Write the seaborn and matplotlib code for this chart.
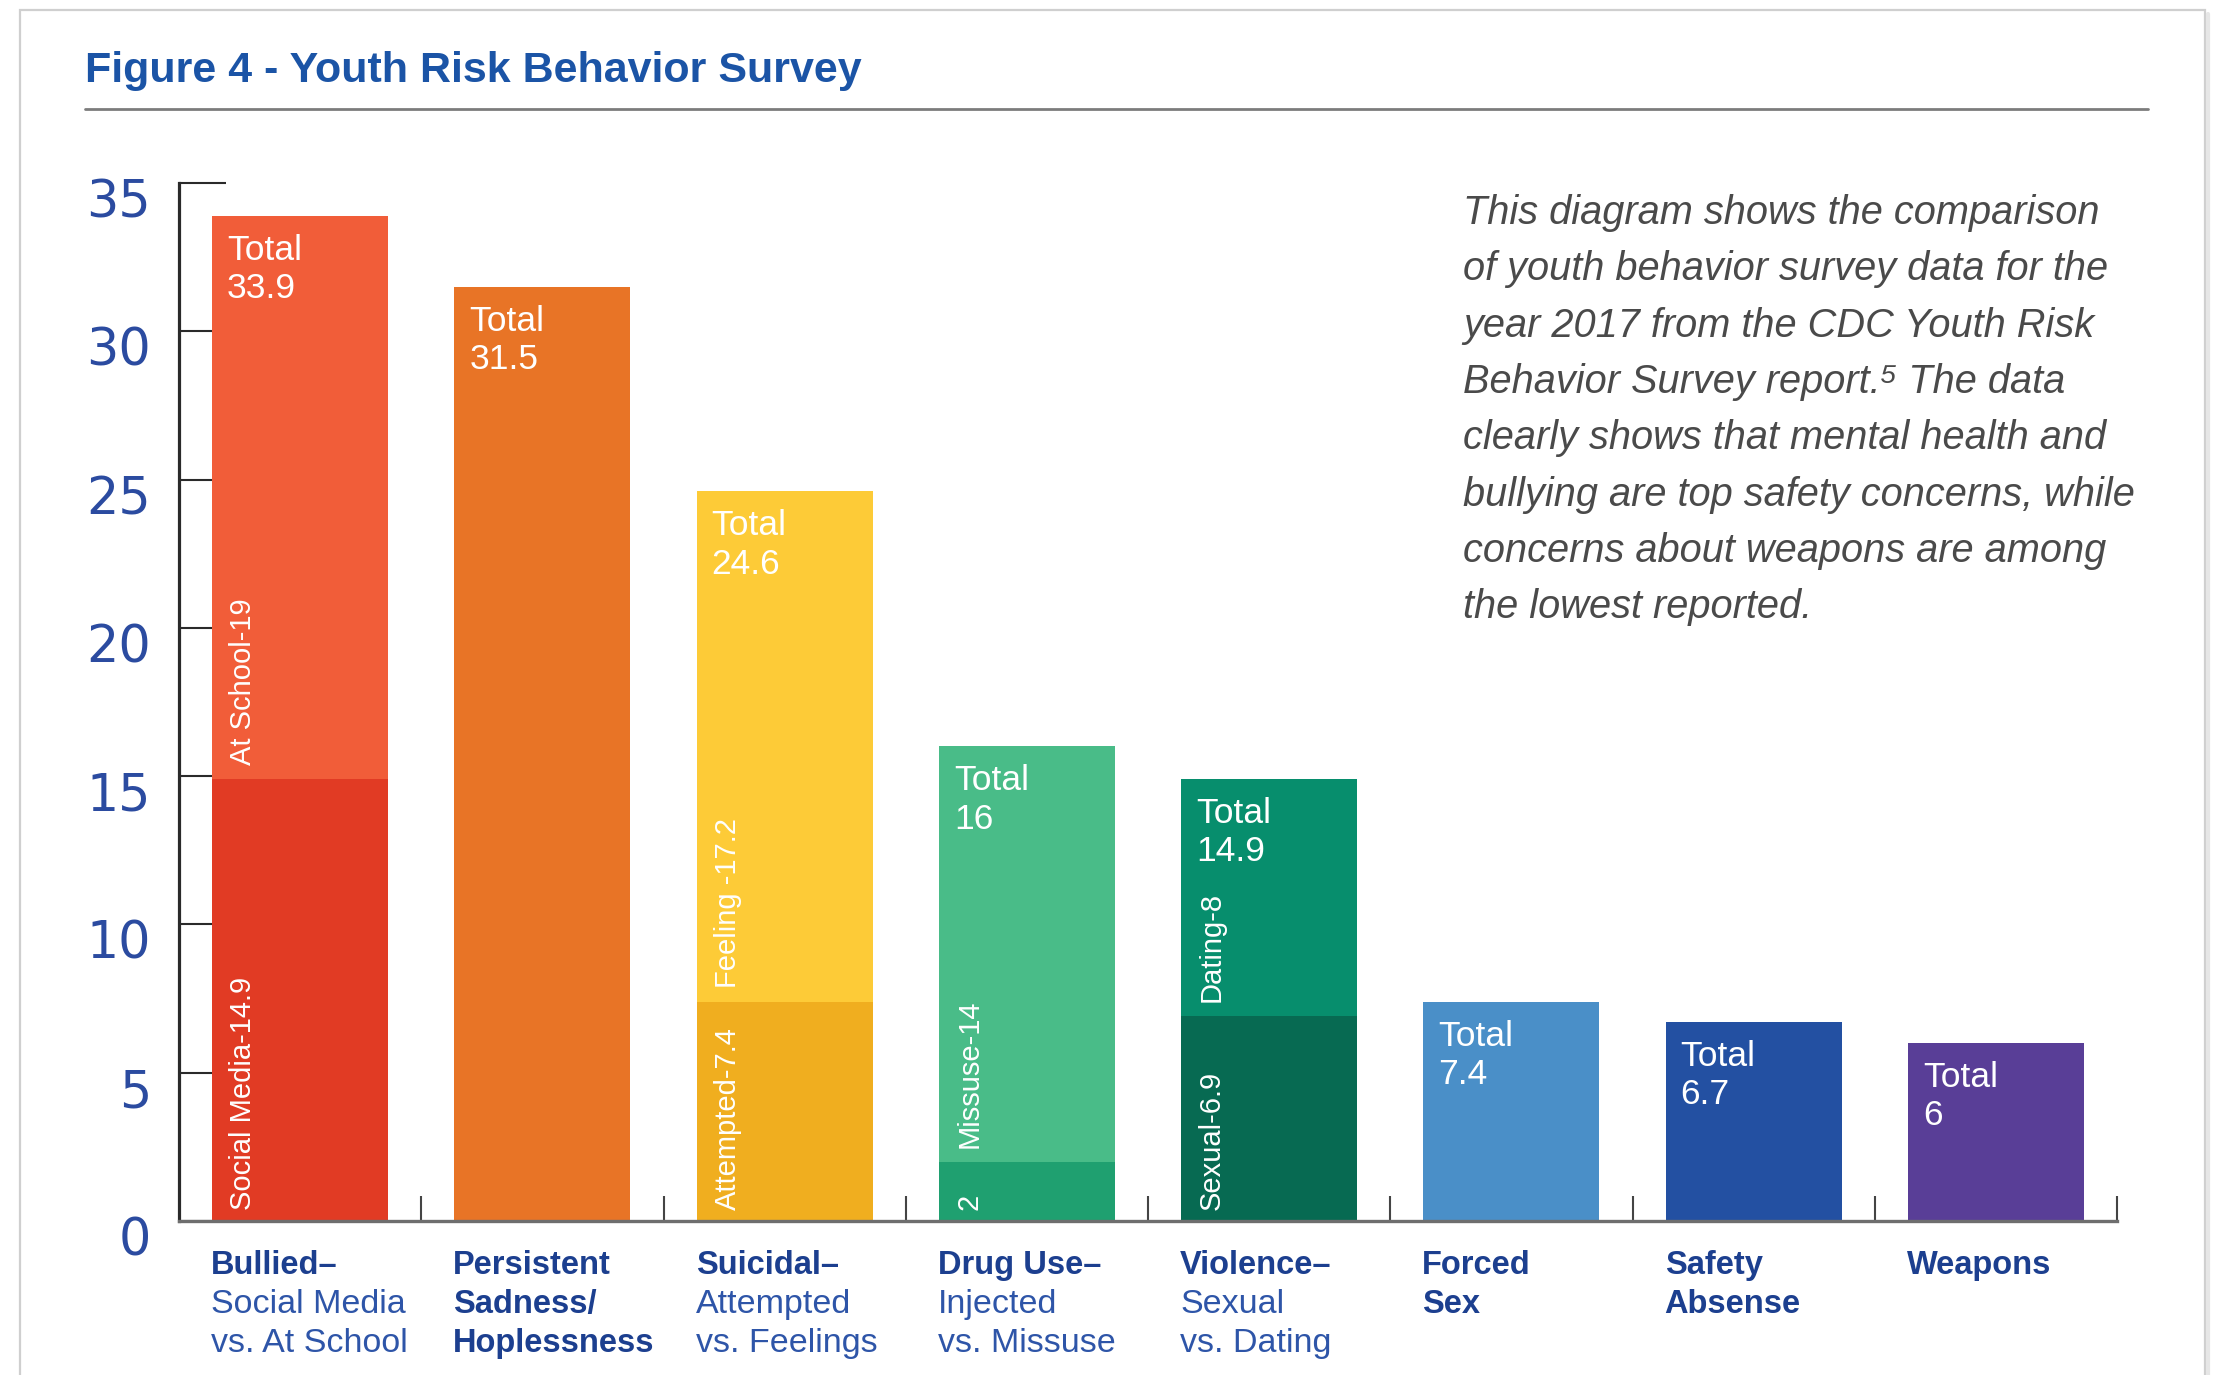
import numpy as np
import pandas as pd
import matplotlib
matplotlib.use("Agg")
import matplotlib.pyplot as plt
from matplotlib import font_manager as fm
from matplotlib.patches import Rectangle
from matplotlib.lines import Line2D
import matplotlib.transforms as mtransforms
import seaborn as sns

# ---------------- data ----------------
categories = ["Bullied", "Persistent Sadness", "Suicidal", "Drug Use",
              "Violence", "Forced Sex", "Safety Absense", "Weapons"]
bottom_values = [14.9, 0.0, 7.4, 2.0, 6.9, 0.0, 0.0, 0.0]
top_values = [19.0, 31.5, 17.2, 14.0, 8.0, 7.4, 6.7, 6.0]
total_values = [33.9, 31.5, 24.6, 16.0, 14.9, 7.4, 6.7, 6.0]
total_labels = ["33.9", "31.5", "24.6", "16", "14.9", "7.4", "6.7", "6"]
bottom_labels = ["Social Media-14.9", "", "Attempted-7.4", "2", "Sexual-6.9", "", "", ""]
top_labels = ["At School-19", "", "Feeling -17.2", "Missuse-14", "Dating-8", "", "", ""]
label_heads = [["Bullied–"], ["Persistent", "Sadness/", "Hoplessness"], ["Suicidal–"],
               ["Drug Use–"], ["Violence–"], ["Forced", "Sex"], ["Safety", "Absense"], ["Weapons"]]
label_tails = [["Social Media", "vs. At School"], [], ["Attempted", "vs. Feelings"],
               ["Injected", "vs. Missuse"], ["Sexual", "vs. Dating"], [], [], []]
y_ticks = [0, 5, 10, 15, 20, 25, 30, 35]

top_colors = ["#F15D39", "#E87426", "#FDCB37", "#49BC88", "#078E6D", "#4A8FC8", "#2350A2", "#593E97"]
bottom_colors = ["#E13B24", "#E87426", "#F0AE1F", "#1FA070", "#076A52", "#4A8FC8", "#2350A2", "#593E97"]

title = "Figure 4 - Youth Risk Behavior Survey"
note_lines = ["This diagram shows the comparison",
              "of youth behavior survey data for the",
              "year 2017 from the CDC Youth Risk",
              "Behavior Survey report.\u2075 The data",
              "clearly shows that mental health and",
              "bullying are top safety concerns, while",
              "concerns about weapons are among",
              "the lowest reported."]

# ---------------- fonts ----------------
sns.set_style("white")
installed = {f.name for f in fm.fontManager.ttflist}


def pick(*cands):
    for c in cands:
        if c in installed:
            return c
    return "DejaVu Sans"


NARROW = pick("Liberation Sans Narrow", "DejaVu Sans Condensed", "Liberation Sans")
REGULAR = pick("Liberation Sans", "Roboto", "DejaVu Sans")
plt.rcParams["font.family"] = [REGULAR, "DejaVu Sans"]

W, H = 2213, 1375
fig = plt.figure(figsize=(W / 100, H / 100), dpi=100)
fig.patch.set_facecolor("white")

ax_left, ax_right, ax_top, ax_bottom = 179, 2117, 183, 1221
ax = fig.add_axes([ax_left / W, 1 - ax_bottom / H,
                   (ax_right - ax_left) / W, (ax_bottom - ax_top) / H])

df = pd.DataFrame({"category": categories, "total": total_values, "bottom": bottom_values})
bar_w = 0.727
# full-height bars first, the lower segments drawn over them
sns.barplot(data=df, x="category", y="total", hue="category", palette=top_colors,
            width=bar_w, saturation=1, legend=False, ax=ax, zorder=2,
            linewidth=0, edgecolor="none")
sns.barplot(data=df, x="category", y="bottom", hue="category", palette=bottom_colors,
            width=bar_w, saturation=1, legend=False, ax=ax, zorder=2,
            linewidth=0, edgecolor="none")

ax.set_xlim(-0.5, len(categories) - 0.5)
ax.set_ylim(0, 35)
ax.set_xlabel("")
ax.set_ylabel("")
ax.set_axisbelow(True)

# axes styling
for s in ["top", "right"]:
    ax.spines[s].set_visible(False)
ax.spines["left"].set_color("#2a2a2a")
ax.spines["left"].set_linewidth(2.3)
ax.spines["bottom"].set_color("#6e6e6e")
ax.spines["bottom"].set_linewidth(2.4)

ax.set_xticks(np.arange(0.5, len(categories), 1.0))
ax.set_xticklabels([])
ax.tick_params(axis="x", bottom=True, direction="in", length=18, width=1.5,
               color="#444444")
ax.set_yticks(y_ticks)
ax.set_yticklabels([str(v) for v in y_ticks])
ax.tick_params(axis="y", left=True, direction="in", length=34, width=1.5,
               color="#2a2a2a", labelsize=36.5, labelcolor="#2B4BA0", pad=20)
shift = mtransforms.ScaledTranslation(0, -0.15, fig.dpi_scale_trans)
for lab in ax.get_yticklabels():
    lab.set_fontfamily(["DejaVu Sans"])
    lab.set_transform(lab.get_transform() + shift)

# labels inside bars
for i in range(len(categories)):
    x_left = i - bar_w / 2
    ax.annotate("Total\n" + total_labels[i], xy=(x_left, total_values[i]),
                xycoords="data", xytext=(15, -18), textcoords="offset pixels",
                ha="left", va="top", color="white", fontsize=25.5,
                family=[NARROW, "DejaVu Sans"], linespacing=1.2, zorder=5)
    if bottom_labels[i]:
        ax.annotate(bottom_labels[i], xy=(x_left, 0), xycoords="data",
                    xytext=(31, 11), textcoords="offset pixels", rotation=90,
                    ha="center", va="bottom", color="white", fontsize=21,
                    family=[NARROW, "DejaVu Sans"], zorder=5)
    if top_labels[i]:
        ax.annotate(top_labels[i], xy=(x_left, bottom_values[i]), xycoords="data",
                    xytext=(31, 14), textcoords="offset pixels", rotation=90,
                    ha="center", va="bottom", color="white", fontsize=21,
                    family=[NARROW, "DejaVu Sans"], zorder=5)

# category labels under the axis
line_gap = 39
for i in range(len(categories)):
    x_left = i - bar_w / 2
    k = 0
    for txt in label_heads[i]:
        ax.annotate(txt, xy=(x_left, 0), xycoords=("data", "axes fraction"),
                    xytext=(-1, -53 - k * line_gap), textcoords="offset pixels",
                    ha="left", va="baseline", color="#1C3F8F", fontsize=23.5,
                    fontweight="bold", family=[NARROW, "DejaVu Sans"],
                    annotation_clip=False)
        k += 1
    for txt in label_tails[i]:
        ax.annotate(txt, xy=(x_left, 0), xycoords=("data", "axes fraction"),
                    xytext=(-1, -53 - k * line_gap), textcoords="offset pixels",
                    ha="left", va="baseline", color="#2E55A8", fontsize=24.5,
                    family=[REGULAR, "DejaVu Sans"], annotation_clip=False)
        k += 1

# title, rule and frame
fig.text(85 / W, 1 - 82 / H, title, ha="left", va="baseline", fontsize=31,
         fontweight="bold", color="#1B54A6", family=[NARROW, "DejaVu Sans"])
fig.add_artist(Line2D([85 / W, 2148 / W], [1 - 109 / H, 1 - 109 / H],
                      transform=fig.transFigure, color="#7c7c7c", lw=2.0))
fig.add_artist(Rectangle((20 / W, -0.05), (2205 - 20) / W, 1.05 - 10 / H,
                         transform=fig.transFigure, fill=False,
                         edgecolor="#cfcfcf", lw=1.6))
fig.add_artist(Line2D([2208 / W, 2208 / W], [-0.05, 1 - 14 / H],
                      transform=fig.transFigure, color="#e6e6e6", lw=3))

# descriptive note
for j, line in enumerate(note_lines):
    fig.text(1463 / W, 1 - (224 + j * 56.3) / H, line, ha="left", va="baseline",
             fontsize=28.6, style="italic", color="#4a4a4a",
             family=[REGULAR, "DejaVu Sans"])

fig.savefig("out.png", dpi=100, facecolor="white")
